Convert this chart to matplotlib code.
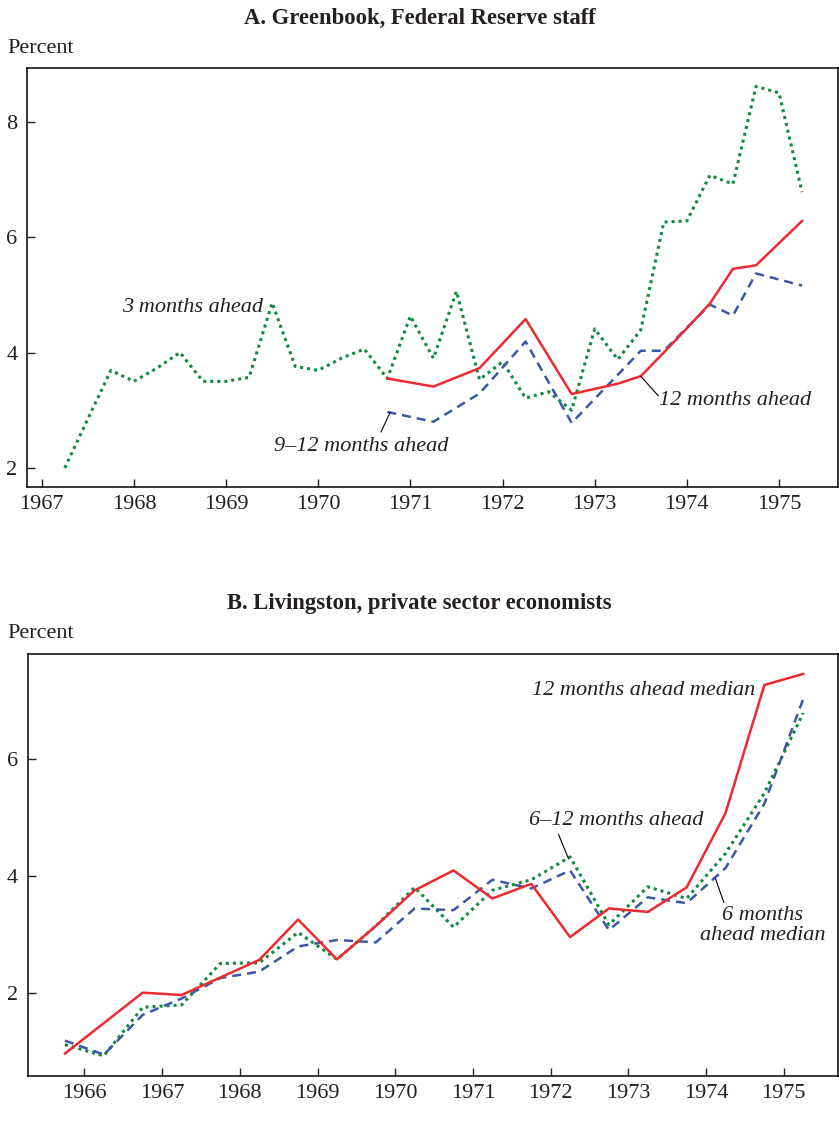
from matplotlib import pyplot as plt

plt.rcParams["font.family"] = ["Liberation Serif", "DejaVu Serif"]

# Panel A: Greenbook, Federal Reserve staff (quarterly)
greenbook_3m_dates = [1967.25, 1967.5, 1967.75, 1968.0, 1968.25, 1968.5, 1968.75, 1969.0,
                      1969.25, 1969.5, 1969.75, 1970.0, 1970.25, 1970.5, 1970.75, 1971.0,
                      1971.25, 1971.5, 1971.75, 1972.0, 1972.25, 1972.5, 1972.75, 1973.0,
                      1973.25, 1973.5, 1973.75, 1974.0, 1974.25, 1974.5, 1974.75, 1975.0,
                      1975.25]
greenbook_3m = [2.0, 2.85, 3.69, 3.50, 3.73, 4.0, 3.5, 3.5,
                3.57, 4.86, 3.76, 3.69, 3.9, 4.06, 3.55, 4.63,
                3.90, 5.06, 3.53, 3.84, 3.21, 3.32, 3.0, 4.41,
                3.88, 4.39, 6.26, 6.28, 7.07, 6.92, 8.61, 8.50,
                6.78]
greenbook_12m_dates = [1970.75, 1971.25, 1971.75, 1972.25, 1972.75, 1973.25, 1973.5,
                       1973.75, 1974.0, 1974.25, 1974.5, 1974.75, 1975.25]
greenbook_12m = [3.55, 3.41, 3.73, 4.58, 3.28, 3.46, 3.59, 4.0, 4.42, 4.85, 5.45, 5.51, 6.28]
greenbook_912m_dates = [1970.75, 1971.25, 1971.75, 1972.25, 1972.75, 1973.5, 1973.75,
                        1974.25, 1974.5, 1974.75, 1975.25]
greenbook_912m = [2.97, 2.80, 3.29, 4.19, 2.78, 4.03, 4.03, 4.83, 4.64, 5.37, 5.16]
years_a = list(range(1967, 1976))

# Panel B: Livingston survey (semi-annual)
livingston_dates = [1965.75, 1966.25, 1966.75, 1967.25, 1967.75, 1968.25, 1968.75, 1969.25,
                    1969.75, 1970.25, 1970.75, 1971.25, 1971.75, 1972.25, 1972.75, 1973.25,
                    1973.75, 1974.25, 1974.75, 1975.25]
livingston_12m_median = [0.97, 1.49, 2.01, 1.97, 2.27, 2.57, 3.26, 2.58, 3.15, 3.76,
                         4.10, 3.62, 3.87, 2.96, 3.45, 3.39, 3.81, 5.08, 7.27, 7.46]
livingston_612m = [1.12, 0.93, 1.76, 1.80, 2.51, 2.52, 3.04, 2.58, 3.15, 3.81,
                   3.13, 3.76, 3.94, 4.33, 3.17, 3.82, 3.62, 4.39, 5.42, 6.79]
livingston_6m_median = [1.19, 0.95, 1.63, 1.91, 2.26, 2.37, 2.80, 2.91, 2.87, 3.45,
                        3.42, 3.94, 3.79, 4.10, 3.08, 3.64, 3.54, 4.14, 5.24, 7.03]
years_b = list(range(1966, 1976))

RED = "#ec2a30"
GREEN = "#11893f"
BLUE = "#3b58a6"
DOTTED = (0, (1, 1.3))
DASHED = (0, (3.6, 2.4))
LABEL_KW = dict(fontsize=16, style="italic", color="#231f20")
LEADER = dict(arrowstyle="-", color="black", lw=0.8, shrinkA=0, shrinkB=0)


def style_axes(ax, years, yticks):
    ax.set_xticks(years)
    ax.set_yticks(yticks)
    ax.tick_params(direction="in", length=6, width=1, labelsize=16, pad=6,
                   colors="#231f20", top=False, right=False)
    ax.tick_params(axis="y", pad=7)
    for spine in ax.spines.values():
        spine.set_linewidth(1.1)


fig = plt.figure(figsize=(8.39, 11.37), dpi=100)

# ---- Panel A ----
ax1 = fig.add_axes([0.0322, 0.5717, 0.9666, 0.3685])
ax1.plot(greenbook_3m_dates, greenbook_3m, color=GREEN, linestyle=DOTTED, linewidth=2.2)
ax1.plot(greenbook_912m_dates, greenbook_912m, color=BLUE, linestyle=DASHED, linewidth=1.8)
ax1.plot(greenbook_12m_dates, greenbook_12m, color=RED, linestyle="-", linewidth=1.8)
ax1.set_xlim(1966.84, 1975.64)
ax1.set_ylim(1.67, 8.93)
style_axes(ax1, years_a, [2, 4, 6, 8])

ax1.text(1969.40, 4.78, "3 months ahead", ha="right", va="center", **LABEL_KW)
ax1.text(1969.52, 2.38, "9\u201312 months ahead", ha="left", va="center", **LABEL_KW)
ax1.annotate("", xy=(1970.78, 2.96), xytext=(1970.68, 2.62), arrowprops=LEADER)
ax1.text(1973.70, 3.16, "12 months ahead", ha="left", va="center", **LABEL_KW)
ax1.annotate("", xy=(1973.5, 3.59), xytext=(1973.69, 3.25), arrowprops=LEADER)

fig.text(0.5, 0.9835, "A. Greenbook, Federal Reserve staff", ha="center", va="center",
         fontsize=16.3, fontweight="bold", color="#231f20")
fig.text(0.009, 0.9575, "Percent", ha="left", va="center", fontsize=16, color="#231f20")

# ---- Panel B ----
ax2 = fig.add_axes([0.033, 0.0539, 0.966, 0.3709])
ax2.plot(livingston_dates, livingston_612m, color=GREEN, linestyle=DOTTED, linewidth=2.2)
ax2.plot(livingston_dates, livingston_6m_median, color=BLUE, linestyle=DASHED, linewidth=1.8)
ax2.plot(livingston_dates, livingston_12m_median, color=RED, linestyle="-", linewidth=1.8)
ax2.set_xlim(1965.27, 1975.70)
ax2.set_ylim(0.59, 7.8)
style_axes(ax2, years_b, [2, 4, 6])

ax2.text(1974.63, 7.18, "12 months ahead median", ha="right", va="center", **LABEL_KW)
ax2.text(1971.72, 4.95, "6\u201312 months ahead", ha="left", va="center", **LABEL_KW)
ax2.annotate("", xy=(1972.23, 4.30), xytext=(1972.10, 4.72), arrowprops=LEADER)
ax2.text(1974.73, 3.16, "6 months\nahead median", ha="center", va="center",
         linespacing=1.05, **LABEL_KW)
ax2.annotate("", xy=(1974.12, 3.96), xytext=(1974.23, 3.55), arrowprops=LEADER)

fig.text(0.5, 0.4688, "B. Livingston, private sector economists", ha="center", va="center",
         fontsize=16.3, fontweight="bold", color="#231f20")
fig.text(0.009, 0.4432, "Percent", ha="left", va="center", fontsize=16, color="#231f20")

fig.savefig("out.png", dpi=100)
